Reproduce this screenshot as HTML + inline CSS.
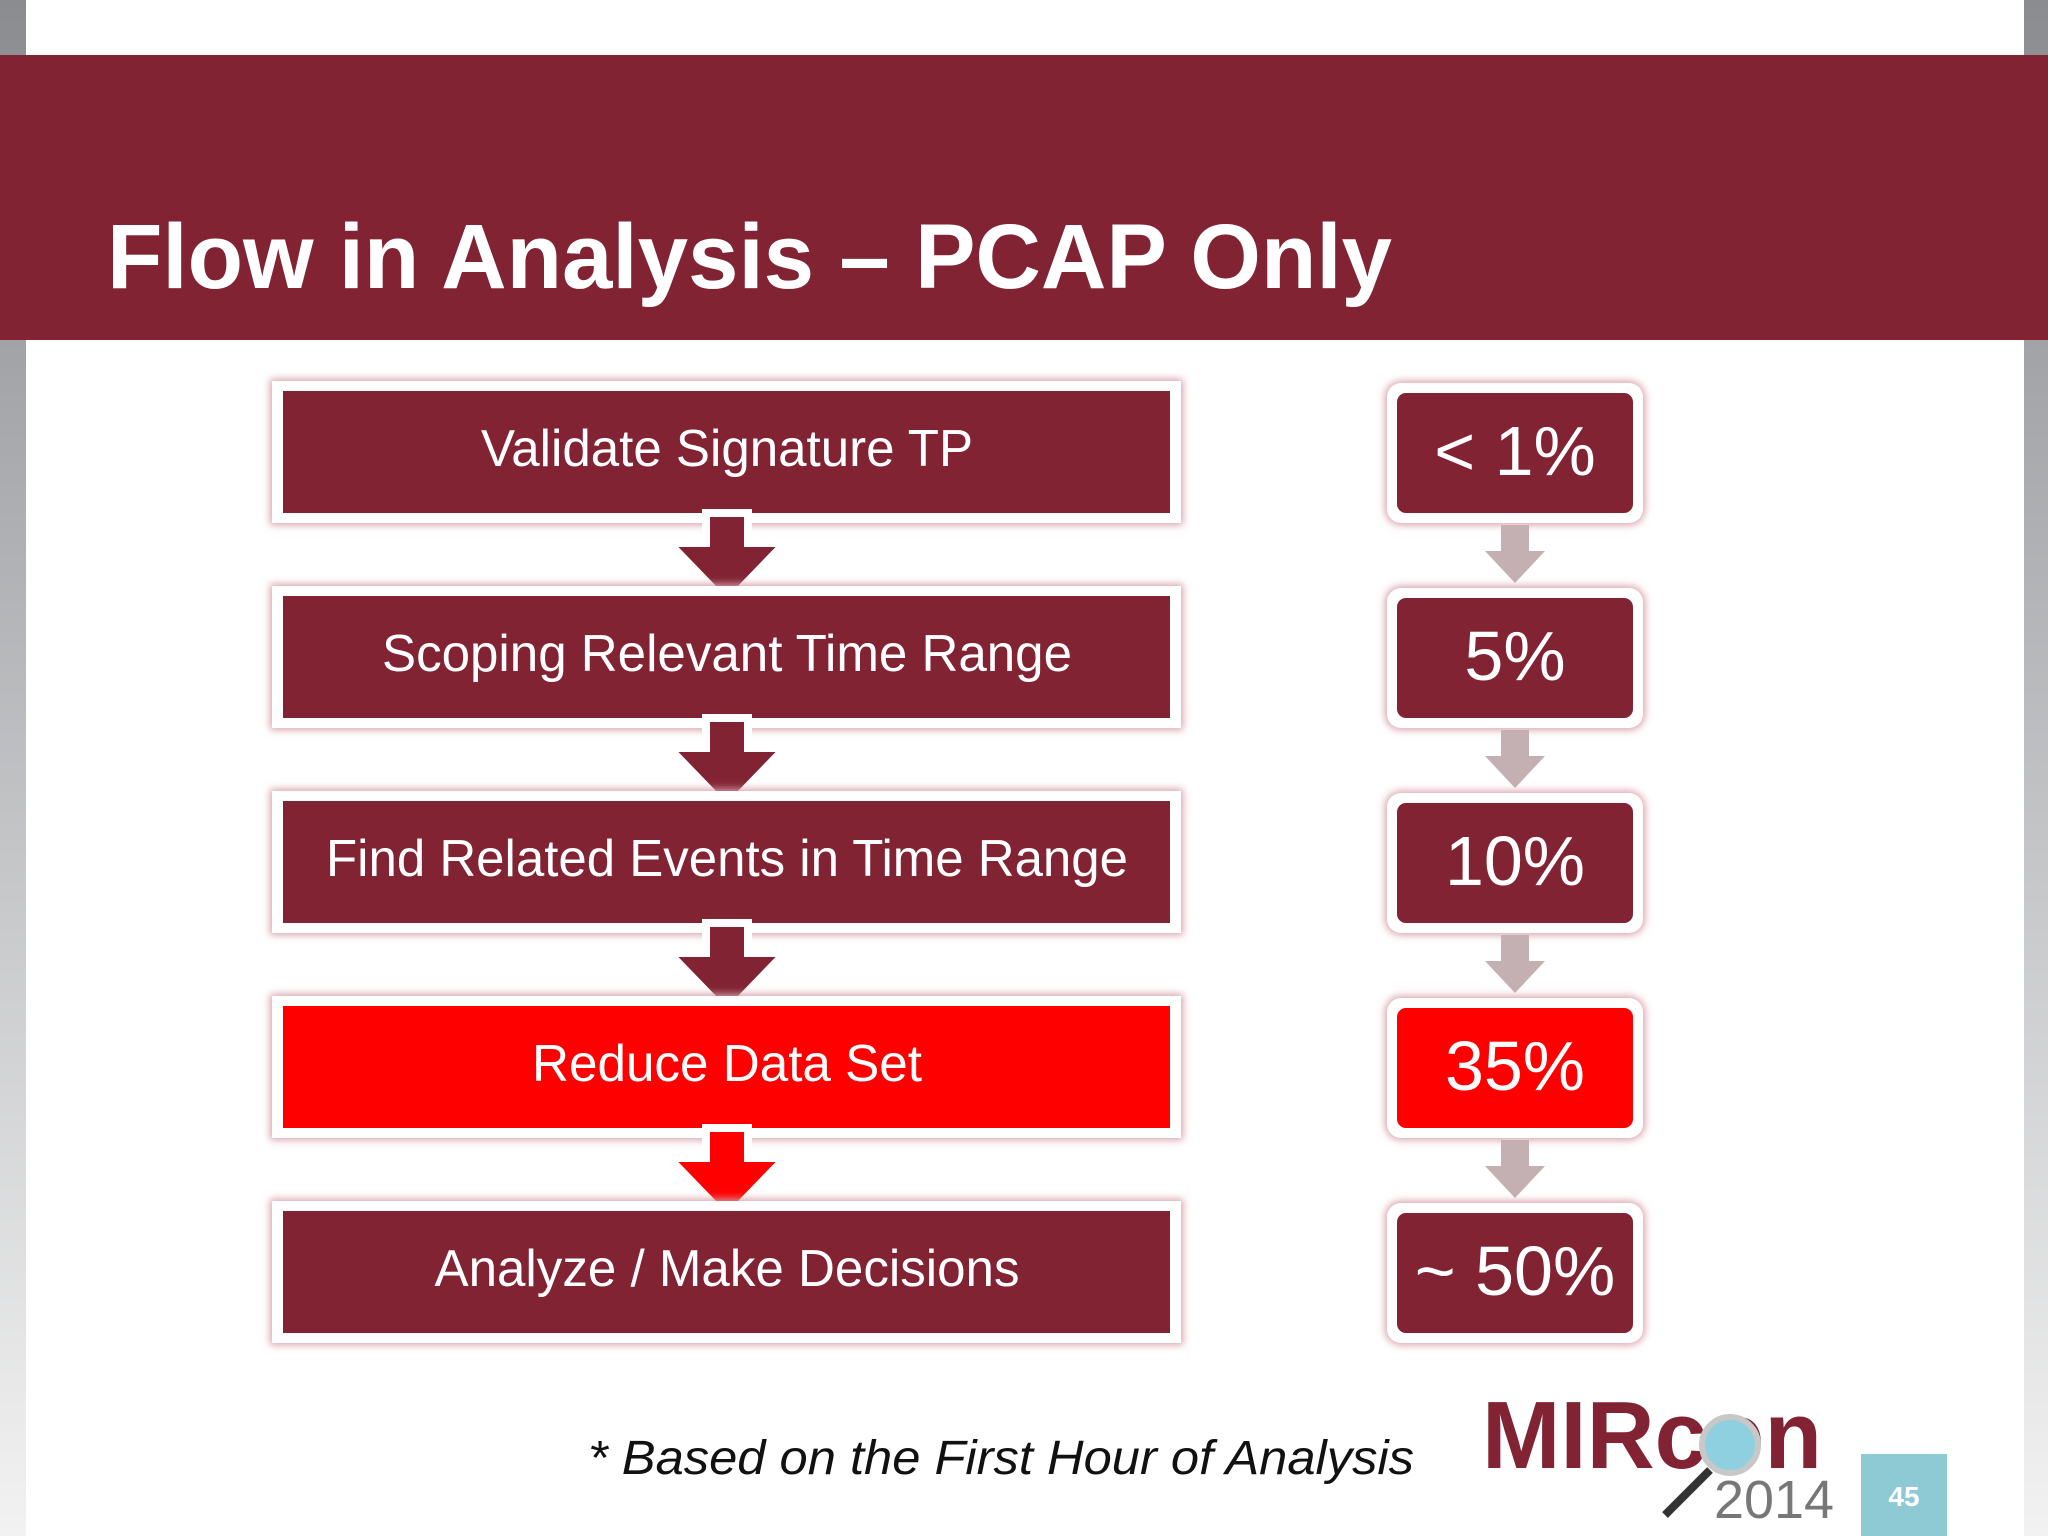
<!DOCTYPE html>
<html><head><meta charset="utf-8"><style>
html,body{margin:0;padding:0;width:2048px;height:1536px;overflow:hidden;background:#fff}
svg{display:block;font-family:"Liberation Sans",Arial,sans-serif}
</style></head><body>
<svg id="slide" width="2048" height="1536" viewBox="0 0 2048 1536">
<defs>
<linearGradient id="side" x1="0" y1="0" x2="0" y2="1">
<stop offset="0" stop-color="#8a8c90"/><stop offset="0.6" stop-color="#c9cacc"/><stop offset="1" stop-color="#f2f2f2"/>
</linearGradient>
<filter id="glow" x="-10%" y="-20%" width="120%" height="140%"><feGaussianBlur stdDeviation="4"/></filter>
</defs>
<rect x="0" y="0" width="2048" height="1536" fill="#ffffff"/>
<rect x="0" y="0" width="26" height="1536" fill="url(#side)"/>
<rect x="2024" y="0" width="24" height="1536" fill="url(#side)"/>
<rect x="0" y="55" width="2048" height="285" fill="#812333"/>
<text x="107" y="288" font-size="92" font-weight="bold" fill="#fff" textLength="1285" lengthAdjust="spacingAndGlyphs">Flow in Analysis – PCAP Only</text>
<g id="flow"></g>
<text x="588" y="1474" font-size="48" font-style="italic" fill="#111" textLength="826" lengthAdjust="spacingAndGlyphs">* Based on the First Hour of Analysis</text>
<g>
<text x="1482" y="1468" font-size="96" font-weight="bold" fill="#812333" textLength="340" lengthAdjust="spacingAndGlyphs">MIRcon</text>
<circle cx="1730" cy="1445" r="28" fill="#8fd0e0" stroke="#c8c8c8" stroke-width="6"/>
<line x1="1710" y1="1470" x2="1665" y2="1515" stroke="#333" stroke-width="8"/>
<text x="1714" y="1518" font-size="54" fill="#777" textLength="120" lengthAdjust="spacingAndGlyphs">2014</text>
</g>
<rect x="1861" y="1454" width="86" height="82" fill="#8ecad3"/>
<text x="1904" y="1506" font-size="28" font-weight="bold" fill="#fff" text-anchor="middle">45</text>
</svg>
<script>
const steps = ["Validate Signature TP","Scoping Relevant Time Range","Find Related Events in Time Range","Reduce Data Set","Analyze / Make Decisions"];
const percents = ["< 1%","5%","10%","35%","~ 50%"];
const highlight = [false,false,false,true,false];
const textWidths = [492,690,802,390,585];
const g = document.getElementById('flow');
const NS = 'http://www.w3.org/2000/svg';
function mk(tag, attrs){const e=document.createElementNS(NS,tag);for(const k in attrs)e.setAttribute(k,attrs[k]);g.appendChild(e);return e;}
const rowY = i => 379 + i*205;
steps.forEach((s,i)=>{
  const y=rowY(i), col=highlight[i]?'#ff0000':'#812333';
  const glow=mk('rect',{x:270,y:y,width:913,height:146,fill:'#d9a0aa',filter:'url(#glow)'});
  
  
  const outer=mk('rect',{x:272,y:y+2,width:909,height:142,fill:'#fff'});
  
  
  const box=mk('rect',{x:283,y:y+12,width:887,height:122,fill:col});
  
  
  const t=mk('text',{x:727,y:y+87,'font-size':52,fill:'#fff','text-anchor':'middle',textLength:textWidths[i],lengthAdjust:'spacingAndGlyphs'});
  t.textContent=s;
  
  
  const pg=mk('rect',{x:1385,y:y+2,width:260,height:144,rx:16,fill:'#d9a0aa',filter:'url(#glow)'});
  
  
  const po=mk('rect',{x:1387,y:y+4,width:256,height:140,rx:14,fill:'#fff'});
  
  
  const pb=mk('rect',{x:1397,y:y+14,width:236,height:120,rx:9,fill:col});
  
  
  const pt=mk('text',{x:1515,y:y+96,'font-size':70,fill:'#fff','text-anchor':'middle'});
  pt.textContent=percents[i];
  
  
  if(i<steps.length-1){
    const a=y+134, c=727;
    const arr=mk('path',{d:`M${c-21} ${a} L${c+21} ${a} L${c+21} ${a+30} L${c+58} ${a+30} L${c} ${a+90} L${c-58} ${a+30} L${c-21} ${a+30} Z`,fill:col,stroke:'#fff','stroke-width':8,'stroke-linejoin':'miter'});
    
    
    const b=y+146, d=1515;
    const ga=mk('path',{d:`M${d-14} ${b} L${d+14} ${b} L${d+14} ${b+26} L${d+30} ${b+26} L${d} ${b+58} L${d-30} ${b+26} L${d-14} ${b+26} Z`,fill:'#c4afb2'});
    
    
  }
});
</script>
</body></html>
